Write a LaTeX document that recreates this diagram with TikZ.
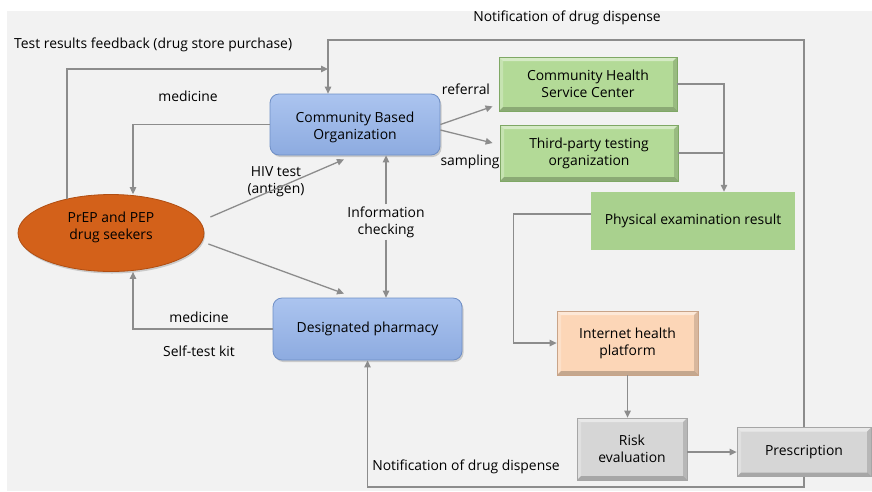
\documentclass[tikz,border=0pt]{standalone}
\usepackage{fontspec}
\setmainfont{Open Sans}
\usetikzlibrary{arrows.meta,shapes.geometric,shadows}
\definecolor{bg}{HTML}{F2F2F2}
\definecolor{lgray}{HTML}{8C8C8C}
\definecolor{orfill}{HTML}{D3611A}
\definecolor{ordraw}{HTML}{B04E12}
\definecolor{blfill}{HTML}{9BB6E7}
\definecolor{bltop}{HTML}{ABC4EF}
\definecolor{blbot}{HTML}{8DABE0}
\definecolor{bldraw}{HTML}{6F8FC6}
\definecolor{grfill}{HTML}{B3DA97}
\definecolor{grdraw}{HTML}{7FA865}
\definecolor{phfill}{HTML}{A9D18E}
\definecolor{pcfill}{HTML}{FCD6B7}
\definecolor{pcdraw}{HTML}{C9A488}
\definecolor{gyfill}{HTML}{D6D6D6}
\definecolor{gydraw}{HTML}{A6A6A6}
\newcommand\mybevel{%
 \fill[white,opacity=0.45] (path picture bounding box.north west) -- (path picture bounding box.north east) -- ([xshift=-4pt,yshift=-4pt]path picture bounding box.north east) -- ([xshift=4pt,yshift=-4pt]path picture bounding box.north west) -- cycle;
 \fill[white,opacity=0.25] (path picture bounding box.north west) -- ([xshift=4pt,yshift=-4pt]path picture bounding box.north west) -- ([xshift=4pt,yshift=4pt]path picture bounding box.south west) -- (path picture bounding box.south west) -- cycle;
 \fill[black,opacity=0.22] (path picture bounding box.south west) -- (path picture bounding box.south east) -- ([xshift=-4pt,yshift=4pt]path picture bounding box.south east) -- ([xshift=4pt,yshift=4pt]path picture bounding box.south west) -- cycle;
 \fill[black,opacity=0.14] (path picture bounding box.north east) -- ([xshift=-4pt,yshift=-4pt]path picture bounding box.north east) -- ([xshift=-4pt,yshift=4pt]path picture bounding box.south east) -- (path picture bounding box.south east) -- cycle;
}
\newcommand\twoline[3]{\raisebox{#1}[\height][\depth]{\begin{tabular}{@{}c@{}}#2\\#3\end{tabular}}}
\tikzset{
  bevelbox/.style 2 args={rectangle, fill=#1, draw=#2, line width=0.8pt, align=center, inner sep=0pt, path picture={\mybevel}},
  bluebox/.style={rectangle, rounded corners=9pt, top color=bltop, bottom color=blbot, draw=bldraw, line width=0.8pt, align=center, inner sep=0pt, drop shadow={shadow xshift=1.5pt, shadow yshift=-2pt, opacity=0.35}},
  seekshape/.style={ellipse, fill=orfill, draw=ordraw, line width=0.8pt, align=center, inner sep=0pt, drop shadow={shadow xshift=1pt, shadow yshift=-2pt, opacity=0.35}},
  conn/.style={draw=lgray, line width=1.3pt, -{Triangle[length=7pt,width=6.5pt]}},
  wire/.style={draw=lgray, line width=1.3pt},
  lbl/.style={inner sep=1pt, align=center, text=black}
}
\begin{document}
\begin{tikzpicture}[x=1pt,y=-1pt, font=\fontsize{13.9}{17}\selectfont]
\useasboundingbox (0,0) rectangle (872,491);
\fill[bg] (7,11) rectangle (872,491);

% nodes
\node[seekshape, minimum width=186pt, minimum height=77pt] (seek) at (111,233) {\twoline{5pt}{PrEP and PEP}{drug seekers}};
\node[bluebox, minimum width=170pt, minimum height=61pt] (cbo) at (355,124.5) {\twoline{-3pt}{Community Based}{Organization}};
\node[bluebox, minimum width=189pt, minimum height=62pt] (pharm) at (367.5,329) {Designated pharmacy};
\node[bevelbox={grfill}{grdraw}, minimum width=178pt, minimum height=54pt] (chsc) at (588,84) {Community Health\\Service Center};
\node[bevelbox={grfill}{grdraw}, minimum width=178pt, minimum height=56pt] (third) at (589,153) {Third-party testing\\organization};
\node[rectangle, fill=phfill, minimum width=204pt, minimum height=58pt, inner sep=0pt] (phys) at (693,221) {Physical examination result};
\node[bevelbox={pcfill}{pcdraw}, minimum width=141pt, minimum height=64pt] (inet) at (627.5,343) {Internet health\\platform};
\node[bevelbox={gyfill}{gydraw}, minimum width=110pt, minimum height=62pt] (risk) at (632,449) {Risk\\evaluation};
\node[bevelbox={gyfill}{gydraw}, minimum width=134pt, minimum height=49pt] (presc) at (804,452) {Prescription};

% labels
\node[lbl, anchor=west] (ltest) at (13,45) {Test results feedback (drug store purchase)};
\node[lbl] (ltop) at (567,18) {Notification of drug dispense};
\node[lbl] (lmed1) at (188,96) {medicine};
\node[lbl] (lhiv) at (276,182) {HIV test\\(antigen)};
\node[lbl, inner sep=2pt] (info) at (386,222) {Information\\checking};
\node[lbl] (lref) at (466,89) {referral};
\node[lbl] (lsamp) at (470,162) {sampling};
\node[lbl] (lmed2) at (199,317) {medicine};
\node[lbl] (lkit) at (199,351) {Self-test kit};
\node[lbl] (lbot) at (466,467) {Notification of drug dispense};

% connectors
\coordinate (jtop) at (328,69);
\draw[conn] (seek.142) |- (jtop);
\draw[conn] (presc.north) |- (328,40) -- ([xshift=-27pt]cbo.north);
\draw[conn] (cbo.west) -| ([xshift=22pt]seek.north);
\draw[conn] ([xshift=6pt,yshift=16pt]seek.east) -- ([xshift=-11pt,yshift=-4pt]cbo.south);
\draw[conn] ([xshift=4pt,yshift=-11pt]seek.east) -- ([xshift=-23.5pt,yshift=4pt]pharm.north);
\draw[conn] (info.north) -- (info.north |- cbo.south);
\draw[conn] (info.south) -- (info.south |- pharm.north);
\draw[conn] (pharm.west) -| ([xshift=22pt]seek.south);
\draw[conn] (cbo.east) -- ([xshift=-6pt,yshift=5pt]chsc.south west);
\draw[conn] ([yshift=-5.5pt]cbo.east) -- ([xshift=-7pt,yshift=10pt]third.west);
\draw[conn] (chsc.east) -| ([xshift=31pt]phys.north);
\draw[wire] (third.east) -- ([xshift=31pt]phys.north |- third.east);
\draw[conn] ([yshift=7pt]phys.west) -| ([xshift=-43pt]inet.west) -- (inet.west);
\draw[conn] (inet.south) -- (inet.south |- risk.north);
\draw[conn] (presc.west -| risk.east) -- (presc.west);
\draw[conn] (presc.south) -- ++(0,10) -| (pharm.south);
\end{tikzpicture}
\end{document}
